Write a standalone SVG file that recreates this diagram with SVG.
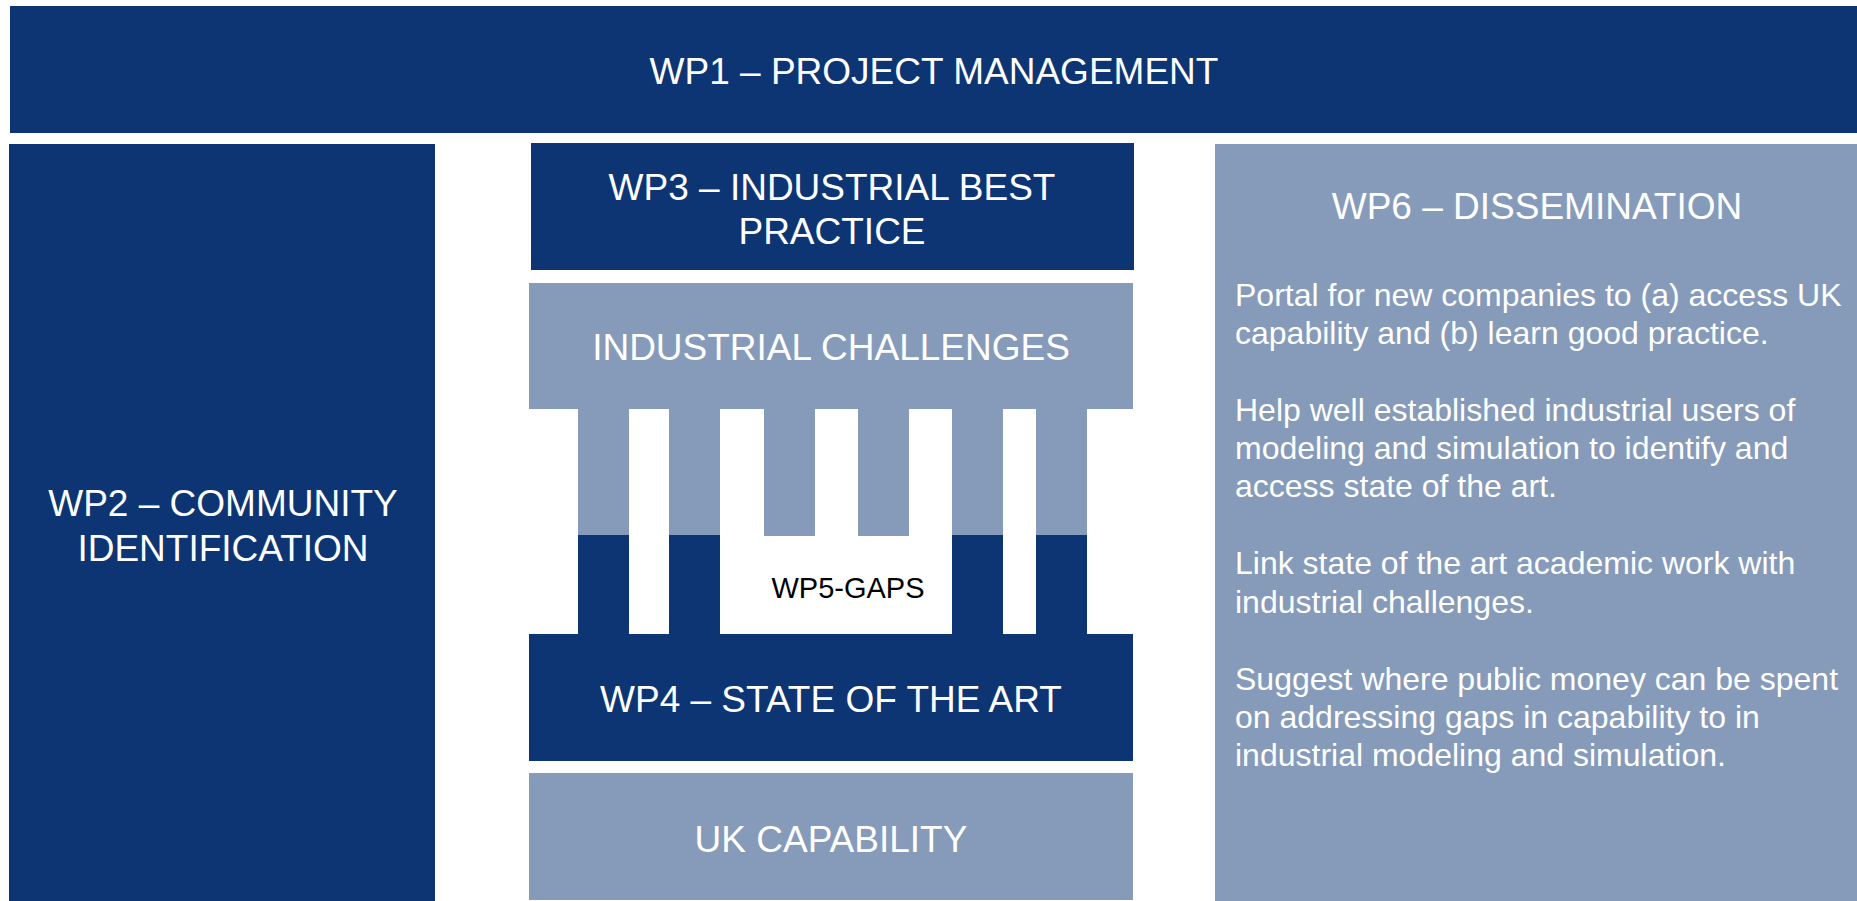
<svg xmlns="http://www.w3.org/2000/svg" width="1857" height="901" viewBox="0 0 1857 901">
<style>
.dark{fill:#0d3574}
.light{fill:#869bb9}
.lbl{font-family:"Liberation Sans",Arial,sans-serif;font-size:37px;fill:#ffffff;text-anchor:middle}
.body{font-family:"Liberation Sans",Arial,sans-serif;font-size:32px;fill:#ffffff}
.gap{font-family:"Liberation Sans",Arial,sans-serif;font-size:29px;fill:#000000;text-anchor:middle}
</style>
<rect x="0" y="0" width="1857" height="901" fill="#ffffff"/>
<g id="wp1">
<rect class="dark" x="10" y="6" width="1847" height="127"/>
<text class="lbl" x="934" y="84">WP1 – PROJECT MANAGEMENT</text>
</g>
<g id="wp2">
<rect class="dark" x="9" y="144" width="426" height="757"/>
<text class="lbl" x="223" y="516">WP2 – COMMUNITY</text>
<text class="lbl" x="223" y="561">IDENTIFICATION</text>
</g>
<g id="wp3">
<rect class="dark" x="531" y="143" width="603" height="127"/>
<text class="lbl" x="832" y="200">WP3 – INDUSTRIAL BEST</text>
<text class="lbl" x="832" y="244">PRACTICE</text>
</g>
<g id="pillars">
<rect class="light" x="578" y="409" width="51" height="126"/>
<rect class="dark" x="578" y="535" width="51" height="100"/>
<rect class="light" x="669" y="409" width="51" height="126"/>
<rect class="dark" x="669" y="535" width="51" height="100"/>
<rect class="light" x="764" y="409" width="51" height="127"/>
<rect class="light" x="858" y="409" width="51" height="127"/>
<rect class="light" x="952" y="409" width="51" height="126"/>
<rect class="dark" x="952" y="535" width="51" height="100"/>
<rect class="light" x="1036" y="409" width="51" height="126"/>
<rect class="dark" x="1036" y="535" width="51" height="100"/>
</g>
<g id="industrial-challenges">
<rect class="light" x="529" y="283" width="604" height="126"/>
<text class="lbl" x="831" y="360">INDUSTRIAL CHALLENGES</text>
</g>
<g id="wp5">
<text class="gap" x="848" y="598">WP5-GAPS</text>
</g>
<g id="wp4">
<rect class="dark" x="529" y="634" width="604" height="127"/>
<text class="lbl" x="831" y="712">WP4 – STATE OF THE ART</text>
</g>
<g id="uk-capability">
<rect class="light" x="529" y="773" width="604" height="127"/>
<text class="lbl" x="831" y="852">UK CAPABILITY</text>
</g>
<g id="wp6">
<rect class="light" x="1215" y="144" width="642" height="757"/>
<text class="lbl" x="1537" y="219">WP6 – DISSEMINATION</text>
<text class="body" x="1235" y="306">Portal for new companies to (a) access UK</text>
<text class="body" x="1235" y="344">capability and (b) learn good practice.</text>
<text class="body" x="1235" y="421">Help well established industrial users of</text>
<text class="body" x="1235" y="459">modeling and simulation to identify and</text>
<text class="body" x="1235" y="497">access state of the art.</text>
<text class="body" x="1235" y="574">Link state of the art academic work with</text>
<text class="body" x="1235" y="613">industrial challenges.</text>
<text class="body" x="1235" y="690">Suggest where public money can be spent</text>
<text class="body" x="1235" y="728">on addressing gaps in capability to in</text>
<text class="body" x="1235" y="766">industrial modeling and simulation.</text>
</g>
<g id="connectors"></g>
</svg>
